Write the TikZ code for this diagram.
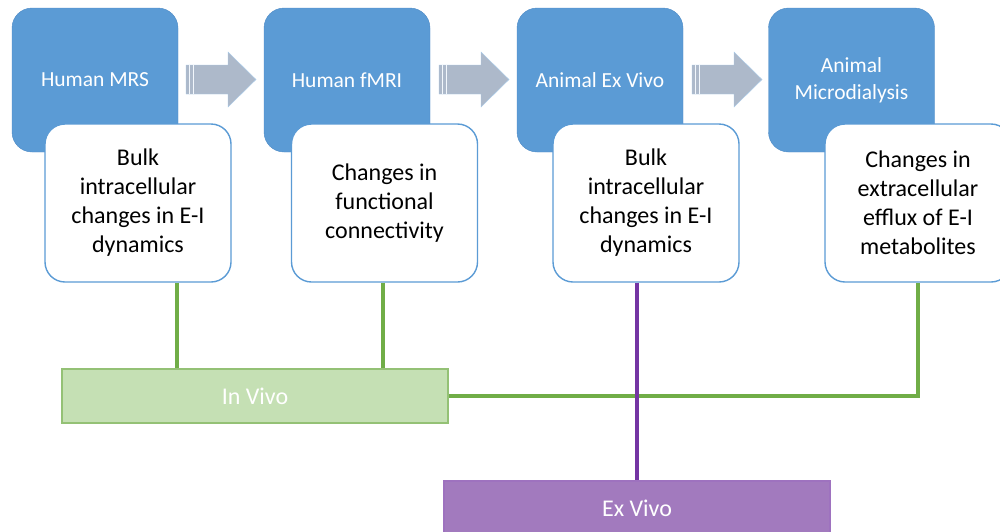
\documentclass[tikz,border=0pt]{standalone}
\usepackage{fontspec}
\setmainfont{Carlito}
\usepackage{xcolor}
\usepackage{tikz}
\usetikzlibrary{calc}
\usetikzlibrary{positioning}

\definecolor{stageblue}{HTML}{5B9BD5}
\definecolor{stageedge}{HTML}{4F8BC6}
\definecolor{arrowgray}{HTML}{ADB9CA}
\definecolor{arrowedge}{HTML}{A9CBEA}
\definecolor{vivofill}{HTML}{C5E0B4}
\definecolor{vivogreen}{HTML}{70AD47}
\definecolor{exfill}{HTML}{A27ABE}
\definecolor{expurple}{HTML}{7435A3}

\begin{document}
\begin{tikzpicture}[x=1pt, y=-1pt, semithick]
 	  \tikzstyle{stage}=[rounded corners=20pt, fill=stageblue, draw=stageedge, thin, text=white, minimum width=166pt, minimum height=144pt, align=center, font=\fontsize{21.5}{27}\selectfont]
 	  \tikzstyle{finding}=[rounded corners=20pt, fill=white, draw=stageblue, line width=1.4pt, text=black, minimum width=186pt, minimum height=158pt, align=center, font=\fontsize{24}{29}\selectfont]
 	  \tikzstyle{group}=[minimum width=386pt, minimum height=54pt, line width=1.2pt, text=white, font=\fontsize{24}{29}\selectfont]
 	  \tikzstyle{link}=[line width=3.2pt]
\useasboundingbox (0,0) rectangle (1000,531);
    \node[stage] (m_1) at (95,80) {Human MRS};
    \node[stage] (m_2) at (347,80) {Human fMRI};
    \node[stage] (m_3) at (600,80) {Animal Ex Vivo};
    \node[stage] (m_4) at (851.5,80) {Animal\\Microdialysis};
\foreach \x in {186,439,692}{
    \filldraw[fill=arrowgray, draw=arrowedge, thin] (\x,65) -- (\x+42,65) -- (\x+42,52) -- (\x+70,79.5) -- (\x+42,107) -- (\x+42,94) -- (\x,94) -- cycle;
    \draw[white!85!arrowedge, line width=0.8pt] (\x+3.5,65) -- (\x+3.5,94) (\x+7,65) -- (\x+7,94);
      }
    \node[finding] (d_1) at (138,203) {Bulk\\intracellular\\changes in E-I\\dynamics};
    \node[finding] (d_2) at (384.5,203) {Changes in\\functional\\connectivity};
    \node[finding] (d_3) at (646,203) {Bulk\\intracellular\\changes in E-I\\dynamics};
    \node[finding] (d_4) at (918,203) {Changes in\\extracellular\\efflux of E-I\\metabolites};
    \node[group, fill=vivofill, draw=vivogreen!75] (invivo) at (255,396) {In Vivo};
    \node[group, fill=exfill, draw=expurple!70] (exvivo) at (637,508) {Ex Vivo};
\draw[vivogreen, link] ([xshift=39pt]d_1.south) -- ([xshift=39pt]d_1.south |- invivo.north);
\draw[vivogreen, link] ([xshift=-1.5pt]d_2.south) -- ([xshift=-1.5pt]d_2.south |- invivo.north);
\draw[vivogreen, link] (invivo.east) -| (d_4.south);
\draw[expurple, link] ([xshift=-9pt]d_3.south) -- ([xshift=-9pt]d_3.south |- exvivo.north);
   \end{tikzpicture}
\end{document}
